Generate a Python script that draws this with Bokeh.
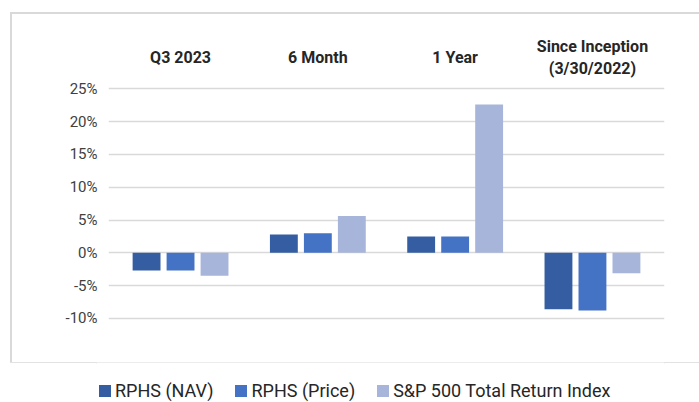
from bokeh.plotting import figure
from bokeh.models import (FactorRange, Range1d, FixedTicker, PrintfTickFormatter,
                          Legend, LegendItem, ColumnDataSource)
from bokeh.layouts import column
from bokeh.embed import file_html
from bokeh.resources import INLINE
from bokeh.core.properties import value

# ---- data ----
categories = ["Q3 2023", "6 Month", "1 Year", "Since Inception"]
category_labels = ["Q3 2023", "6 Month", "1 Year", "Since Inception\n(3/30/2022)"]
series = ["RPHS (NAV)", "RPHS (Price)", "S&P 500 Total Return Index"]
nav = [-2.7, 2.8, 2.5, -8.6]
price = [-2.7, 3.0, 2.5, -8.8]
sp500 = [-3.5, 5.6, 22.6, -3.1]
y_ticks = [-10, -5, 0, 5, 10, 15, 20, 25]

# ---- styles ----
colors = ["#345EA1", "#4472C4", "#A7B5DA"]
FONT = "Roboto"
label_y = 29.8

x = [(c, s) for c in categories for s in series]
vals = [v for trio in zip(nav, price, sp500) for v in trio]
fills = colors * len(categories)
src = ColumnDataSource(dict(x=x, top=vals, color=fills))

xr = FactorRange(*x, group_padding=1.04, range_padding=0.082)

# ---- main chart (inside the light grey box) ----
p = figure(x_range=xr, y_range=Range1d(-16.72, 36.33),
           width=687, height=348, output_backend="svg", toolbar_location=None,
           x_axis_location=None,
           min_border_left=96, min_border_right=35, min_border_top=0, min_border_bottom=0)
bars = p.vbar(x="x", top="top", bottom=0, width=0.82, color="color", line_color=None, source=src)

lab_src = ColumnDataSource(dict(x=categories, text=category_labels))
p.text(x="x", y=label_y, text="text", source=lab_src, text_align="center",
       text_baseline="middle", text_font=value(FONT), text_font_style="bold",
       text_font_size="16px", text_color="#262626", text_line_height=1.15)

p.yaxis.ticker = FixedTicker(ticks=y_ticks)
p.yaxis.formatter = PrintfTickFormatter(format="%d%%")
p.yaxis.axis_line_color = None
p.yaxis.major_tick_line_color = None
p.yaxis.minor_tick_line_color = None
p.yaxis.major_tick_out = 0
p.yaxis.major_tick_in = 0
p.yaxis.major_label_standoff = 11
p.yaxis.major_label_text_font = FONT
p.yaxis.major_label_text_font_size = "15px"
p.yaxis.major_label_text_color = "#404040"
p.ygrid.grid_line_color = "#d9d9d9"
p.ygrid.grid_line_width = 1.5
p.xgrid.visible = False
p.outline_line_color = None
p.background_fill_color = "white"
p.border_fill_color = "white"
p.margin = (14, 0, 0, 12)
p.styles = {"outline": "2px solid #d9d9d9"}

# ---- legend strip below the box ----
lf = figure(x_range=xr, y_range=Range1d(1000, 1001), width=699, height=40,
            output_backend="svg", toolbar_location=None,
            x_axis_location=None, y_axis_location=None, min_border=0)
lf.outline_line_color = None
lf.grid.visible = False
lbars = lf.vbar(x="x", top="top", bottom=0, width=0.82, color="color",
                line_color=None, source=src)
items = [LegendItem(label=name, renderers=[lbars], index=i) for i, name in enumerate(series)]
leg = Legend(items=items, orientation="horizontal", location=(1, 1),
             glyph_width=15, glyph_height=15, label_height=15, label_standoff=3, spacing=20,
             padding=0, margin=0, border_line_color=None, background_fill_alpha=0,
             label_text_font=FONT, label_text_font_size="18px",
             label_text_color="#262626")
lf.add_layout(leg, "center")

layout = column(p, lf)
open("out.html", "w").write(file_html(layout, INLINE))
